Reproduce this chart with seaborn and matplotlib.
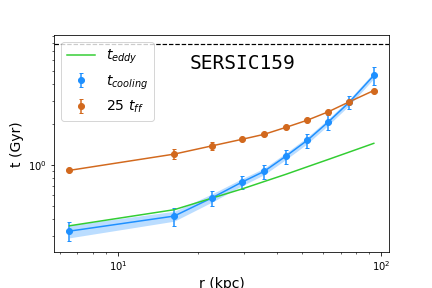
import matplotlib
matplotlib.use("Agg")
import matplotlib.pyplot as plt
import seaborn as sns
import numpy as np
import pandas as pd

# data
r_kpc = [6.52, 16.3, 22.75, 29.4, 35.8, 43.2, 52.2, 62.7, 75.3, 93.5]
t_cool = [0.324, 0.419, 0.573, 0.745, 0.898, 1.16, 1.524, 2.083, 2.914, 4.62]
t_cool_err = [0.052, 0.065, 0.073, 0.083, 0.11, 0.135, 0.18, 0.25, 0.32, 0.7]
t_cool_band = [0.035, 0.035, 0.04, 0.045, 0.05, 0.065, 0.085, 0.11, 0.15, 0.25]
t_ff25 = [0.914, 1.206, 1.39, 1.55, 1.69, 1.90, 2.15, 2.48, 2.94, 3.57]
t_ff25_err = [0.02, 0.1, 0.09, 0.04, 0.04, 0.04, 0.04, 0.05, 0.05, 0.06]
t_eddy = [0.355, 0.467, 0.570, 0.664, 0.755, 0.853, 0.971, 1.10, 1.248, 1.45]
t_ref = 7.94
cluster_name = "SERSIC159"

df = pd.DataFrame({"r": r_kpc, "teddy": t_eddy, "tcool": t_cool, "tff": t_ff25})

fig, ax = plt.subplots(figsize=(6, 4), dpi=72)
fig.subplots_adjust(left=0.125, right=0.9, top=0.877, bottom=0.125)

blue = "#1E90FF"
orange = "#D2691E"
green = "#32CD32"

lo = np.array(t_cool) - np.array(t_cool_band)
hi = np.array(t_cool) + np.array(t_cool_band)
ax.fill_between(r_kpc, lo, hi, color=blue, alpha=0.3, lw=0)
sns.lineplot(data=df, x="r", y="tcool", ax=ax, color=blue, lw=1.5, legend=False)
sns.lineplot(data=df, x="r", y="tff", ax=ax, color=orange, lw=1.5, legend=False)
ax.errorbar(r_kpc, t_cool, yerr=t_cool_err, fmt="o", color=blue,
            markersize=6, capsize=2, elinewidth=1.5, label="$t_{cooling}$")
ax.errorbar(r_kpc, t_ff25, yerr=t_ff25_err, fmt="o", color=orange,
            markersize=6, capsize=2, elinewidth=1.5, label="$25\\ t_{ff}$")
sns.lineplot(data=df, x="r", y="teddy", ax=ax, color=green, lw=1.5,
             label="$t_{eddy}$", legend=False)
ax.axhline(t_ref, color="black", ls="--", lw=1.2)

ax.set_xscale("log")
ax.set_yscale("log")
ax.set_xlim(5.7, 106.6)
ax.set_ylim(0.227, 9.14)
ax.set_xlabel("r (kpc)", fontsize=14)
ax.set_ylabel("t (Gyr)", fontsize=14)

handles, labels = ax.get_legend_handles_labels()
order = [labels.index("$t_{eddy}$"), labels.index("$t_{cooling}$"), labels.index("$25\\ t_{ff}$")]
ax.legend([handles[i] for i in order], [labels[i] for i in order],
          loc="upper left", fontsize=14)

ax.text(0.404, 0.87, cluster_name, transform=ax.transAxes, fontsize=19.5,
        family="DejaVu Sans Mono", va="center", ha="left")

fig.savefig("out.png", dpi=72)
